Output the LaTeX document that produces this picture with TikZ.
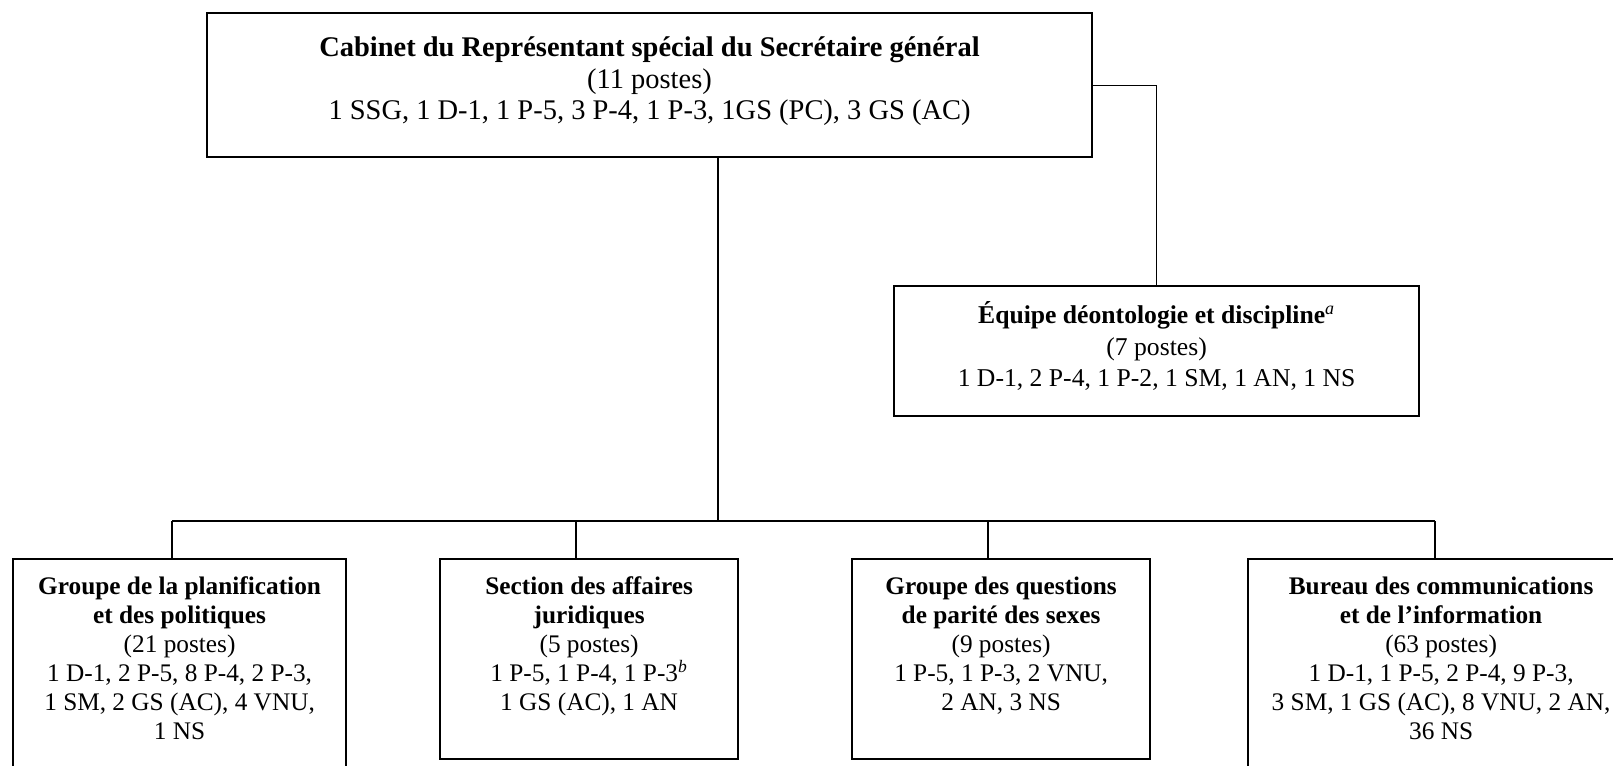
\documentclass[tikz,border=0pt]{standalone}
\usepackage{fontspec}
\setmainfont{Liberation Serif}
\newcommand{\boxtext}[4]{\begin{minipage}[t][#2][t]{#1}\centering\vspace*{#3}\rule{0pt}{1em}#4\end{minipage}}

\begin{document}
\begin{tikzpicture}[x=0.02cm,y=-0.02cm,
  unit/.style={draw,line width=1.3pt,inner sep=0pt,anchor=north west},
  bigtext/.style={font=\fontsize{16.2}{17.9}\selectfont},
  midtext/.style={font=\fontsize{14.6}{17.9}\selectfont},
  smalltext/.style={font=\fontsize{14.4}{16.5}\selectfont},
  link/.style={line width=0.7pt},
  bus/.style={line width=0.9pt}]
  \useasboundingbox (0,0) rectangle (1613,765);
  \node[unit,bigtext] (cabinet) at (206,12) {\boxtext{17.7cm}{2.88cm}{0.3cm}{\textbf{Cabinet du Représentant spécial du Secrétaire général}\\(11 postes)\\1 SSG, 1 D-1, 1 P-5, 3 P-4, 1 P-3, 1GS (PC), 3 GS (AC)}};
  \node[unit,midtext] (ethics) at (893,285) {\boxtext{10.5cm}{2.6cm}{0.24cm}{\textbf{Équipe déontologie et discipline}\textsuperscript{\textit{a}}\\(7 postes)\\1 D-1, 2 P-4, 1 P-2, 1 SM, 1 AN, 1 NS}};
  \node[unit,smalltext] (plan) at (12,558) {\boxtext{6.66cm}{4.6cm}{0.21cm}{\textbf{Groupe de la planification}\\\textbf{et des politiques}\\(21 postes)\\1 D-1, 2 P-5, 8 P-4, 2 P-3,\\1 SM, 2 GS (AC), 4 VNU,\\1 NS}};
  \node[unit,smalltext] (legal) at (439,558) {\boxtext{5.96cm}{4cm}{0.21cm}{\textbf{Section des affaires}\\\textbf{juridiques}\\(5 postes)\\1 P-5, 1 P-4, 1 P-3\textsuperscript{\textit{b}}\\1 GS (AC), 1 AN}};
  \node[unit,smalltext] (gender) at (851,558) {\boxtext{5.96cm}{4cm}{0.21cm}{\textbf{Groupe des questions}\\\textbf{de parité des sexes}\\(9 postes)\\1 P-5, 1 P-3, 2 VNU,\\2 AN, 3 NS}};
  \node[unit,smalltext] (info) at (1247,558) {\boxtext{7.72cm}{4.6cm}{0.21cm}{\textbf{Bureau des communications}\\\textbf{et de l'information}\\(63 postes)\\1 D-1, 1 P-5, 2 P-4, 9 P-3,\\3 SM, 1 GS (AC), 8 VNU, 2 AN,\\36 NS}};
  \coordinate (jtop) at (718,521);
  \coordinate (j1) at (172,521);
  \coordinate (j2) at (576,521);
  \coordinate (j3) at (988,521);
  \coordinate (j4) at (1435,521);
  \draw[link] (cabinet.south -| jtop) -- (jtop);
  \draw[bus] (j1) -- (j4);
  \draw[link] (j1) -- (j1 |- plan.north);
  \draw[link] (j2) -- (j2 |- legal.north);
  \draw[link] (j3) -- (j3 |- gender.north);
  \draw[link] (j4) -- (j4 |- info.north);
  \draw[link] (cabinet.east) -| (ethics.north);
\end{tikzpicture}
\end{document}
